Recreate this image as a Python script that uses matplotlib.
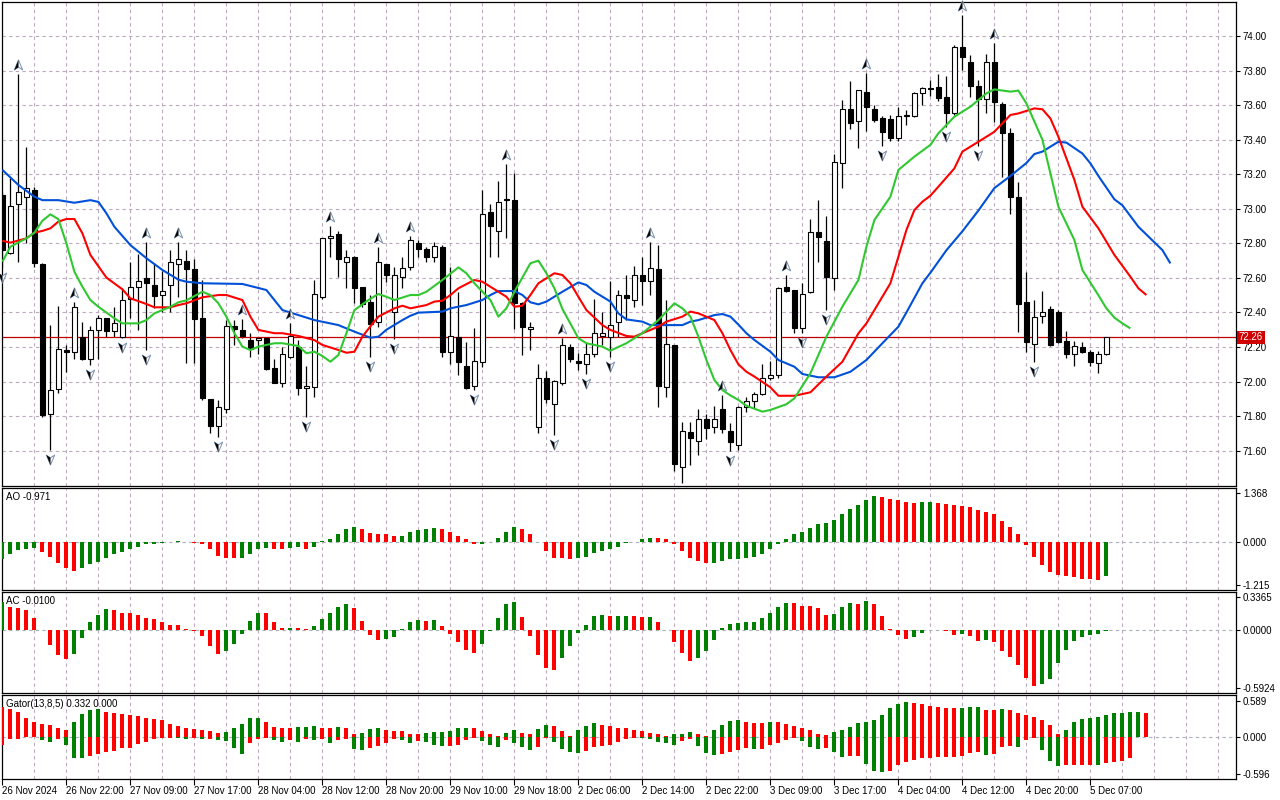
import numpy as np
import matplotlib
matplotlib.use("Agg")
import matplotlib.pyplot as plt
from matplotlib.path import Path
from matplotlib.transforms import offset_copy, blended_transform_factory

plt.rcParams['font.family'] = ['Liberation Sans', 'DejaVu Sans']

# ---------------- data ----------------
opens = [73.08,72.746,73.026,73.07,73.109,72.68,71.81,71.96,72.18,72.17,
 72.256,72.13,72.299,72.366,72.29,72.256,72.476,72.546,72.597,72.56,
 72.50,72.56,72.68,72.70,72.652,72.366,71.898,71.745,71.84,72.324,
 72.30,72.24,72.24,72.25,72.077,71.99,72.145,72.198,71.961,71.967,
 72.488,72.833,72.857,72.694,72.72,72.55,72.459,72.347,72.678,72.401,
 72.607,72.665,72.80,72.765,72.723,72.78,72.169,72.256,72.09,71.976,
 72.115,72.983,72.873,73.057,73.05,72.457,72.304,71.739,72.019,71.868,
 71.99,72.198,72.117,72.102,72.158,72.265,72.26,72.347,72.501,72.472,
 72.617,72.584,72.65,71.967,72.212,71.507,71.706,71.658,71.782,71.738,
 71.84,71.716,71.633,71.851,71.89,71.926,72.019,72.038,72.546,72.53,
 72.308,72.517,72.868,72.816,72.598,73.266,73.576,73.508,73.674,73.576,
 73.524,73.518,73.412,73.537,73.537,73.668,73.70,73.703,73.645,73.556,
 73.934,73.848,73.712,73.633,73.848,73.605,73.437,73.066,72.459,72.218,
 72.38,72.418,72.405,72.237,72.158,72.198,72.169,72.106,72.158]
highs = [73.10,73.176,73.78,73.356,73.128,72.685,72.328,72.4375,72.212,72.458,
 72.347,72.32,72.385,72.37,72.43,72.54,72.69,72.738,72.806,72.68,
 72.64,72.76,72.806,72.76,72.71,72.588,71.90,71.894,72.356,72.356,
 72.36,72.28,72.26,72.26,72.13,72.20,72.341,72.24,72.09,72.588,
 72.83,72.902,72.87,72.76,72.725,72.55,72.50,72.781,72.68,72.665,
 72.723,72.84,72.82,72.78,72.806,72.79,72.665,72.516,72.231,72.308,
 73.109,73.03,73.161,73.259,73.205,72.46,72.347,72.102,72.06,72.01,
 72.25,72.217,72.163,72.221,72.478,72.40,72.584,72.53,72.617,72.669,
 72.723,72.81,72.79,72.472,72.212,71.768,71.768,71.84,71.81,71.859,
 71.922,71.758,71.86,71.913,71.942,72.102,72.121,72.55,72.617,72.53,
 72.57,72.941,73.051,72.958,73.317,73.63,73.742,73.69,73.784,73.60,
 73.537,73.543,73.587,73.572,73.678,73.703,73.745,73.78,73.768,73.948,
 74.122,73.89,73.745,73.896,73.958,73.62,73.466,73.157,72.636,72.472,
 72.526,72.437,72.414,72.293,72.237,72.227,72.183,72.179,72.26]
lows = [72.66,72.74,72.69,72.80,72.665,71.797,71.604,71.935,72.057,72.129,
 72.125,72.096,72.13,72.26,72.26,72.25,72.366,72.30,72.184,72.424,
 72.405,72.40,72.49,72.106,72.106,71.894,71.70,71.681,71.817,72.212,
 72.25,72.14,72.16,72.067,71.99,71.97,72.135,71.923,71.797,71.913,
 72.48,72.723,72.607,72.54,72.453,72.434,72.144,72.318,72.578,72.246,
 72.54,72.646,72.723,72.694,72.694,72.14,72.102,72.038,71.955,71.95,
 72.086,72.72,72.72,72.829,72.304,72.154,72.183,71.705,71.874,71.69,
 71.98,72.115,72.067,72.044,72.144,72.212,72.144,72.26,72.356,72.43,
 72.443,72.501,71.855,71.913,71.48,71.411,71.517,71.575,71.67,71.70,
 71.70,71.60,71.605,71.826,71.845,71.922,72.009,72.019,72.52,72.279,
 72.279,72.51,72.694,72.414,72.53,73.118,73.462,73.354,73.452,73.504,
 73.364,73.394,73.394,73.485,73.533,73.601,73.655,73.626,73.475,73.542,
 73.803,73.645,73.365,73.556,73.504,73.186,72.97,72.289,72.169,72.115,
 72.337,72.208,72.221,72.135,72.092,72.164,72.09,72.048,72.155]
closes = [72.76,73.016,73.095,73.12,72.688,71.807,71.951,72.187,72.17,72.43,
 72.129,72.30,72.366,72.29,72.34,72.472,72.546,72.582,72.568,72.497,
 72.525,72.69,72.71,72.65,72.362,71.903,71.745,71.851,72.324,72.305,
 72.264,72.19,72.25,72.073,71.99,72.158,72.266,71.961,71.976,72.505,
 72.829,72.845,72.707,72.72,72.54,72.447,72.333,72.69,72.617,72.617,
 72.655,72.82,72.765,72.723,72.787,72.169,72.266,72.115,71.961,72.119,
 72.97,72.90,73.037,73.05,72.457,72.318,72.318,72.019,71.897,72.003,
 72.212,72.129,72.105,72.158,72.279,72.279,72.325,72.501,72.486,72.617,
 72.582,72.655,71.976,72.215,71.521,71.716,71.671,71.782,71.729,71.782,
 71.725,71.648,71.855,71.89,71.926,72.019,72.038,72.54,72.527,72.308,
 72.505,72.868,72.835,72.607,73.272,73.576,73.495,73.688,73.587,73.514,
 73.446,73.412,73.537,73.541,73.668,73.697,73.695,73.643,73.556,73.934,
 73.876,73.712,73.633,73.851,73.616,73.437,73.066,72.447,72.227,72.376,
 72.405,72.212,72.227,72.158,72.208,72.169,72.115,72.158,72.256]

up_fractals = [2, 9, 18, 22, 30, 36, 41, 47, 51, 63, 70, 81, 90, 98, 108, 120, 124]
down_fractals = [0, 6, 11, 15, 18, 27, 38, 46, 49, 59, 69, 73, 76, 85, 91, 100,
                 103, 110, 118, 122, 129]

jaw_x = [0,2,4,5,7,9,11,12,13,14,16,18,20,22,23,25,30,33,34,35,37,39,42,44,46,47,48,
         50,51,52,55,56,58,60,61,62,64,65,66,67,68,70,72,73,74,76,77,78,80,81,83,85,
         86,87,89,90,91,92,93,94,96,97,99,100,102,104,106,108,110,112,113,115,116,118,
         120,122,124,126,128,129,130,132,133,135,136,137,139,140,142,145,146]
jaw_y = [73.225,73.138,73.07,73.05,73.05,73.035,73.05,73.04,72.974,72.896,72.79,72.714,
         72.646,72.59,72.578,72.569,72.565,72.53,72.472,72.414,72.385,72.356,72.327,
         72.289,72.254,72.26,72.30,72.356,72.381,72.399,72.405,72.424,72.443,72.472,
         72.501,72.524,72.524,72.501,72.459,72.447,72.463,72.52,72.574,72.559,72.52,
         72.463,72.395,72.36,72.347,72.327,72.327,72.327,72.347,72.356,72.385,72.391,
         72.376,72.33,72.28,72.241,72.173,72.125,72.086,72.044,72.025,72.025,72.057,
         72.125,72.222,72.318,72.40,72.569,72.63,72.76,72.87,72.99,73.12,73.19,73.265,
         73.317,73.331,73.388,73.383,73.32,73.263,73.19,73.055,73.02,72.896,72.761,72.684]
teeth_x = [0,1,3,4,5,6,7,8,9,10,11,13,15,16,18,19,21,22,23,25,27,28,30,31,32,34,35,37,
           39,40,42,43,44,45,46,47,49,50,51,53,54,55,56,57,59,60,61,63,64,65,66,67,69,
           70,71,72,73,75,76,78,79,80,82,83,85,86,87,89,90,91,92,93,94,96,97,99,101,103,
           105,107,108,109,111,113,114,115,116,117,119,120,122,124,126,127,129,130,131,
           132,134,135,137,139,141,142,143]
teeth_y = [72.815,72.804,72.829,72.862,72.872,72.887,72.926,72.941,72.941,72.858,72.733,
           72.602,72.534,72.482,72.449,72.43,72.43,72.443,72.453,72.488,72.501,72.501,
           72.472,72.376,72.299,72.28,72.28,72.264,72.24,72.212,72.183,72.167,72.173,
           72.26,72.32,72.376,72.424,72.439,72.424,72.443,72.463,72.468,72.501,72.54,
           72.588,72.578,72.549,72.491,72.433,72.439,72.501,72.569,72.627,72.617,72.569,
           72.491,72.414,72.327,72.299,72.264,72.26,72.28,72.318,72.347,72.376,72.405,
           72.395,72.356,72.28,72.183,72.1,72.057,72.029,71.967,71.918,71.918,71.938,
           72.029,72.115,72.279,72.337,72.414,72.569,72.877,72.993,73.041,73.076,73.128,
           73.234,73.331,73.388,73.446,73.543,73.552,73.581,73.576,73.523,73.417,73.167,
           73.012,72.887,72.733,72.607,72.54,72.501]
lips_x = [0,1,3,4,5,6,7,8,9,10,11,12,14,15,17,18,19,21,22,23,25,26,27,28,29,30,31,32,
          34,35,37,38,39,40,41,42,43,44,46,47,48,49,51,52,53,55,57,58,59,61,62,63,64,
          66,67,68,69,70,72,73,75,76,78,79,80,82,84,85,86,87,88,89,90,91,92,93,95,96,
          98,99,101,102,103,105,107,108,109,111,112,114,116,117,119,121,123,124,126,127,
          128,130,131,132,134,135,137,138,139,140,141]
lips_y = [72.694,72.781,72.829,72.862,72.931,72.968,72.94,72.80,72.636,72.549,72.472,
          72.433,72.366,72.337,72.337,72.356,72.395,72.433,72.459,72.47,72.52,72.501,
          72.453,72.376,72.28,72.202,72.183,72.202,72.222,72.222,72.206,72.164,72.173,
          72.148,72.115,72.154,72.28,72.414,72.48,72.507,72.491,72.472,72.501,72.501,
          72.52,72.588,72.661,72.627,72.569,72.472,72.376,72.424,72.52,72.685,72.70,
          72.627,72.54,72.42,72.251,72.222,72.202,72.179,72.222,72.251,72.28,72.356,
          72.453,72.424,72.376,72.26,72.125,72.009,71.951,71.92,71.894,71.86,71.826,
          71.836,71.869,71.903,72.048,72.154,72.26,72.434,72.588,72.781,72.935,73.07,
          73.225,73.302,73.37,73.437,73.533,73.591,73.668,73.691,73.678,73.684,73.61,
          73.40,73.205,73.012,72.819,72.646,72.50,72.424,72.37,72.337,72.308]

ao = [-0.50,-0.36,-0.24,-0.20,-0.19,-0.28,-0.42,-0.59,-0.73,-0.81,
 -0.75,-0.64,-0.56,-0.45,-0.36,-0.28,-0.20,-0.14,-0.08,-0.06,
 -0.03,-0.01,0.03,-0.02,-0.03,-0.08,-0.22,-0.39,-0.45,-0.47,
 -0.45,-0.34,-0.22,-0.17,-0.20,-0.22,-0.17,-0.16,-0.20,-0.14,
 0.01,0.08,0.20,0.34,0.42,0.36,0.25,0.21,0.20,0.16,
 0.17,0.28,0.32,0.34,0.39,0.36,0.28,0.17,0.06,-0.08,
 -0.06,-0.01,0.11,0.28,0.42,0.36,0.22,-0.01,-0.25,-0.45,
 -0.47,-0.50,-0.47,-0.42,-0.31,-0.25,-0.20,-0.14,-0.05,-0.02,
 0.06,0.11,0.10,0.06,-0.07,-0.25,-0.45,-0.53,-0.61,-0.59,
 -0.53,-0.50,-0.49,-0.45,-0.42,-0.34,-0.22,-0.08,0.06,0.20,
 0.28,0.39,0.50,0.53,0.61,0.78,0.92,1.03,1.17,1.28,
 1.26,1.20,1.17,1.12,1.09,1.10,1.11,1.09,1.06,1.03,
 1.00,0.98,0.89,0.84,0.78,0.59,0.42,0.20,-0.09,-0.44,
 -0.66,-0.86,-0.94,-0.97,-0.99,-1.05,-1.06,-1.08,-0.971]
ac = [0.285,0.229,0.228,0.198,0.125,-0.005,-0.156,-0.26,-0.30,-0.25,
 -0.083,0.083,0.156,0.208,0.198,0.177,0.176,0.156,0.125,0.115,
 0.083,0.052,0.05,0.01,-0.017,-0.06,-0.167,-0.25,-0.22,-0.146,
 -0.04,0.094,0.177,0.167,0.083,0.02,0.021,0.02,0.01,0.042,
 0.115,0.167,0.229,0.26,0.219,0.094,-0.052,-0.104,-0.094,-0.069,
 0.007,0.076,0.097,0.087,0.098,0.035,-0.038,-0.12,-0.205,-0.236,
 -0.142,-0.017,0.118,0.264,0.285,0.128,-0.059,-0.257,-0.392,-0.413,
 -0.288,-0.163,-0.028,0.045,0.139,0.149,0.139,0.142,0.146,0.139,
 0.128,0.129,0.076,-0.003,-0.12,-0.236,-0.32,-0.288,-0.215,-0.10,
 0.014,0.056,0.066,0.076,0.077,0.118,0.17,0.233,0.274,0.273,
 0.243,0.242,0.222,0.149,0.16,0.233,0.274,0.264,0.295,0.264,
 0.139,0.01,-0.049,-0.09,-0.069,-0.028,-0.007,-0.003,-0.017,-0.049,
 -0.038,-0.059,-0.111,-0.10,-0.122,-0.219,-0.281,-0.365,-0.49,-0.573,
 -0.552,-0.50,-0.344,-0.208,-0.115,-0.073,-0.052,-0.042,-0.010]
gator_upper = [0.486,0.447,0.398,0.300,0.235,0.218,0.202,0.153,0.120,0.235,
 0.366,0.431,0.447,0.398,0.382,0.366,0.349,0.333,0.300,0.284,
 0.267,0.213,0.185,0.153,0.136,0.120,0.104,0.071,0.087,0.153,
 0.218,0.300,0.310,0.235,0.169,0.153,0.150,0.155,0.169,0.170,
 0.153,0.150,0.169,0.153,0.055,0.071,0.136,0.140,0.120,0.098,
 0.095,0.049,0.045,0.065,0.082,0.085,0.098,0.147,0.150,0.145,
 0.098,0.049,0.016,0.065,0.115,0.065,0.049,0.131,0.196,0.180,
 0.098,0.016,0.115,0.180,0.229,0.196,0.180,0.147,0.145,0.115,
 0.098,0.065,0.049,0.016,0.049,0.050,0.082,0.049,0.022,0.115,
 0.196,0.262,0.278,0.245,0.229,0.225,0.245,0.240,0.213,0.180,
 0.147,0.115,0.049,0.033,0.082,0.115,0.164,0.229,0.245,0.278,
 0.360,0.475,0.540,0.573,0.557,0.540,0.507,0.491,0.475,0.470,
 0.475,0.480,0.485,0.442,0.440,0.458,0.442,0.393,0.360,0.327,
 0.278,0.196,0.049,0.115,0.245,0.295,0.311,0.327,0.360,0.393,
 0.395,0.409,0.410,0.393]
gator_lower = [-v for v in [0.136,0.027,0.025,0.005,0.003,0.055,0.087,0.027,0.136,0.333,
 0.335,0.300,0.267,0.235,0.230,0.185,0.180,0.120,0.087,0.038,
 0.022,0.011,0.020,0.033,0.022,0.038,0.027,0.055,0.071,0.185,
 0.267,0.104,0.038,0.022,0.055,0.087,0.055,0.087,0.038,0.055,
 0.038,0.104,0.055,0.038,0.202,0.218,0.185,0.153,0.104,0.038,
 0.044,0.093,0.060,0.076,0.125,0.142,0.140,0.125,0.044,0.011,
 0.060,0.125,0.158,0.044,0.093,0.158,0.207,0.158,0.011,0.076,
 0.191,0.240,0.256,0.224,0.158,0.142,0.125,0.076,0.027,0.011,
 0.013,0.027,0.076,0.093,0.125,0.060,0.027,0.142,0.256,0.289,
 0.273,0.240,0.207,0.175,0.191,0.190,0.125,0.093,0.044,0.011,
 0.060,0.158,0.191,0.175,0.240,0.322,0.306,0.300,0.436,0.551,
 0.567,0.551,0.453,0.404,0.371,0.338,0.335,0.322,0.320,0.318,
 0.306,0.256,0.240,0.289,0.273,0.158,0.147,0.164,0.044,0.011,
 0.207,0.393,0.475,0.458,0.455,0.452,0.450,0.458,0.426,0.409,
 0.393,0.344]]

time_labels = ["26 Nov 2024", "26 Nov 22:00", "27 Nov 09:00", "27 Nov 17:00",
               "28 Nov 04:00", "28 Nov 12:00", "28 Nov 20:00", "29 Nov 10:00",
               "29 Nov 18:00", "2 Dec 06:00", "2 Dec 14:00", "2 Dec 22:00",
               "3 Dec 09:00", "3 Dec 17:00", "4 Dec 04:00", "4 Dec 12:00",
               "4 Dec 20:00", "5 Dec 07:00"]
price_ticks = [71.6, 71.8, 72.0, 72.2, 72.4, 72.6, 72.8, 73.0, 73.2, 73.4, 73.6, 73.8, 74.0]
ao_ticks = [1.368, 0.0, -1.215]
ac_ticks = [0.3365, 0.0, -0.5924]
gator_ticks = [0.589, 0.0, -0.596]

# ---------------- layout ----------------
W, H = 1280, 800
fig = plt.figure(figsize=(W / 100, H / 100), dpi=100)
fig.patch.set_facecolor('white')

def px_axes(x0, y0, x1, y1):
    return fig.add_axes([x0 / W, 1 - y1 / H, (x1 - x0) / W, (y1 - y0) / H])

ax = px_axes(2, 2, 1236, 485.5)
ax_ao = px_axes(2, 488, 1236, 589.5)
ax_ac = px_axes(2, 592, 1236, 692.5)
ax_g = px_axes(2, 695, 1236, 779)
axes = [ax, ax_ao, ax_ac, ax_g]

n = len(closes)
x = np.arange(n)
XMIN, XMAX = -0.05, 154.2
GREEN, RED = '#008000', '#ff0000'
GRID = '#bcaabc'
FS = 7

for a in axes:
    a.set_xlim(XMIN, XMAX)
    for s in a.spines.values():
        s.set_linewidth(0.9)
        s.set_color('black')
    a.yaxis.tick_right()
    a.tick_params(axis='y', direction='out', length=3, width=0.8, pad=2,
                  labelsize=FS, colors='black')
    a.tick_params(axis='x', length=0, labelbottom=False)
    for g in range(4, int(XMAX) + 1, 4):
        a.axvline(g, color=GRID, lw=0.8, ls=(0, (3, 3)), zorder=0)

# ---------------- main price panel ----------------
ax.set_ylim(71.3987, 74.1968)
ax.set_yticks(price_ticks)
ax.set_yticklabels([f"{p:.2f}" for p in price_ticks])
for p in price_ticks:
    ax.axhline(p, color=GRID, lw=0.8, ls=(0, (3, 3)), zorder=0)

o = np.array(opens); c = np.array(closes); h = np.array(highs); l = np.array(lows)
ax.vlines(x, l, h, color='black', lw=0.9, zorder=2)
bull = c >= o
body_bot = np.minimum(o, c)
body_h = np.maximum(np.abs(c - o), 0.002)
ax.bar(x[bull], body_h[bull], bottom=body_bot[bull], width=0.56, facecolor='white',
       edgecolor='black', linewidth=0.8, zorder=3)
ax.bar(x[~bull], body_h[~bull], bottom=body_bot[~bull], width=0.56, facecolor='black',
       edgecolor='black', linewidth=0.8, zorder=3)

ax.plot(jaw_x, jaw_y, color='#0050d8', lw=1.5, zorder=4, solid_capstyle='butt')
ax.plot(teeth_x, teeth_y, color='#ff0000', lw=1.5, zorder=4, solid_capstyle='butt')
ax.plot(lips_x, lips_y, color='#30c830', lw=1.5, zorder=4, solid_capstyle='butt')

# bid line and label
bid = closes[-1]
ax.axhline(bid, color='#c00000', lw=0.9, zorder=2.5)
btr = blended_transform_factory(ax.transAxes, ax.transData)
ax.text(1.0022, bid, f"{bid:.2f}", transform=btr, ha='left', va='center', fontsize=FS,
        color='white', zorder=10, clip_on=False,
        bbox=dict(boxstyle='square,pad=0.18', fc='#d00000', ec='none'))

# fractal arrows
up_full = Path([(0, 1), (0.75, -0.8), (0, -0.3), (-0.75, -0.8), (0, 1)],
               [Path.MOVETO, Path.LINETO, Path.LINETO, Path.LINETO, Path.CLOSEPOLY])
up_half = Path([(0, 1), (0, -0.3), (-0.75, -0.8), (0, 1)],
               [Path.MOVETO, Path.LINETO, Path.LINETO, Path.CLOSEPOLY])
dn_full = Path([(vx, -vy) for vx, vy in up_full.vertices], up_full.codes)
dn_half = Path([(vx, -vy) for vx, vy in up_half.vertices], up_half.codes)
tr_up = offset_copy(ax.transData, fig=fig, x=0, y=9, units='dots')
tr_dn = offset_copy(ax.transData, fig=fig, x=0, y=-9, units='dots')
ux = up_fractals; uy = [highs[i] for i in up_fractals]
dx = down_fractals; dy = [lows[i] for i in down_fractals]
ax.plot(ux, uy, ls='none', marker=up_full, ms=8, mfc='white', mec='#7890b0', mew=0.7,
        transform=tr_up, zorder=6, clip_on=False)
ax.plot(ux, uy, ls='none', marker=up_half, ms=8, mfc='black', mec='none',
        transform=tr_up, zorder=7, clip_on=False)
ax.plot(dx, dy, ls='none', marker=dn_full, ms=8, mfc='white', mec='#7890b0', mew=0.7,
        transform=tr_dn, zorder=6, clip_on=False)
ax.plot(dx, dy, ls='none', marker=dn_half, ms=8, mfc='black', mec='none',
        transform=tr_dn, zorder=7, clip_on=False)

# ---------------- helper for oscillator colours ----------------
def updown_colors(vals, first, use_abs=False):
    v = np.abs(vals) if use_abs else np.asarray(vals)
    cols = [first]
    for i in range(1, len(v)):
        cols.append(GREEN if v[i] > v[i - 1] else RED)
    return cols

def zero_line(a):
    a.axhline(0, color='#a8b0b8', lw=0.8, ls=(0, (3, 3)), zorder=0)

# ---------------- AO ----------------
ax_ao.set_ylim(-1.341, 1.500)
zero_line(ax_ao)
ax_ao.bar(x, ao, width=0.5, color=updown_colors(ao, GREEN), zorder=3)
ax_ao.set_yticks(ao_ticks)
ax_ao.set_yticklabels([f"{t:.3f}" for t in ao_ticks])
ax_ao.text(0.003, 0.965, f"AO {ao[-1]:.3f}", transform=ax_ao.transAxes, ha='left',
           va='top', fontsize=FS)

# ---------------- AC ----------------
ax_ac.set_ylim(-0.642, 0.387)
zero_line(ax_ac)
ax_ac.bar(x, ac, width=0.5, color=updown_colors(ac, GREEN), zorder=3)
ax_ac.set_yticks(ac_ticks)
ax_ac.set_yticklabels([f"{t:.4f}" for t in ac_ticks])
ax_ac.text(0.003, 0.965, f"AC {ac[-1]:.4f}", transform=ax_ac.transAxes, ha='left',
           va='top', fontsize=FS)

# ---------------- Gator ----------------
ax_g.set_ylim(-0.679, 0.679)
zero_line(ax_g)
gx_u = np.arange(len(gator_upper))
gx_l = np.arange(len(gator_lower))
ax_g.bar(gx_u, gator_upper, width=0.5, color=updown_colors(gator_upper, RED), zorder=3)
ax_g.bar(gx_l, gator_lower, width=0.5, color=updown_colors(gator_lower, RED, True), zorder=3)
ax_g.set_yticks(gator_ticks)
ax_g.set_yticklabels([f"{t:.3f}" for t in gator_ticks])
ax_g.text(0.003, 0.955, "Gator(13,8,5) 0.332 0.000", transform=ax_g.transAxes,
          ha='left', va='top', fontsize=FS)

ax_g.set_xticks(np.arange(0, 8 * len(time_labels), 8))
ax_g.set_xticklabels(time_labels, ha='left')
ax_g.tick_params(axis='x', length=4, width=0.8, direction='out', labelbottom=True,
                 labelsize=FS, pad=1)

fig.savefig('out.png', dpi=100)
